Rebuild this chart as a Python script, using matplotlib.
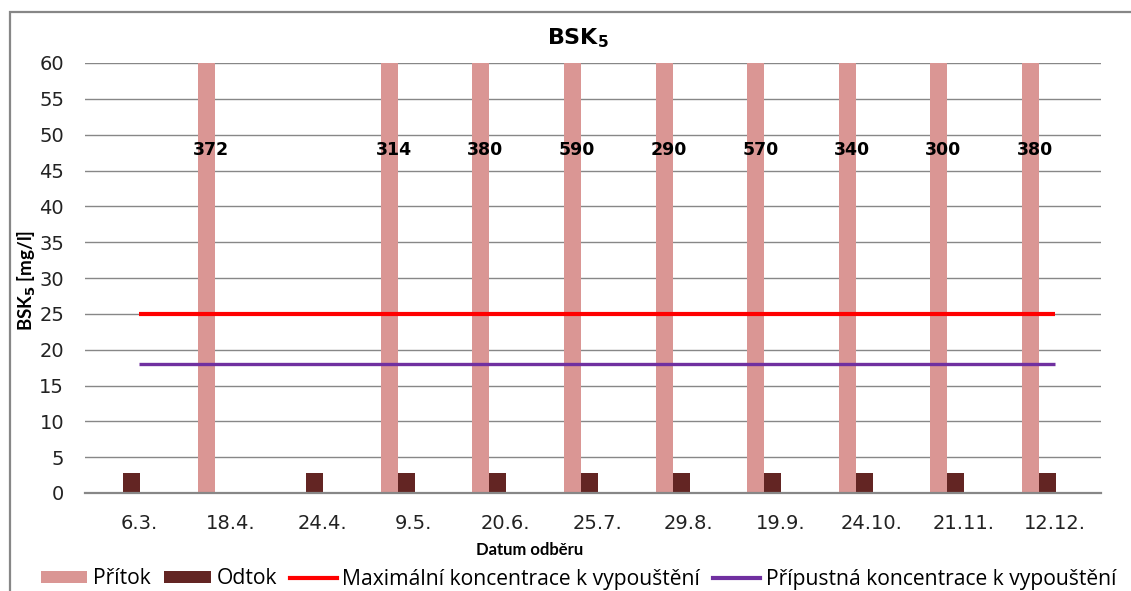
import numpy as np
import matplotlib
matplotlib.use("Agg")
import matplotlib.pyplot as plt
from matplotlib.patches import Patch, Rectangle
from matplotlib.lines import Line2D

# ── Data ──────────────────────────────────────────────────────────────────────
DATES = ["6.3.", "18.4.", "24.4.", "9.5.", "20.6.", "25.7.", "29.8.",
         "19.9.", "24.10.", "21.11.", "12.12."]
PRITOK = [np.nan, 372, np.nan, 314, 380, 590, 290, 570, 340, 300, 380]
ODTOK = [2.8, np.nan, 2.8, 2.8, 2.8, 2.8, 2.8, 2.8, 2.8, 2.8, 2.8]
MAX_LIMIT = [25] * len(DATES)
PRIP_LIMIT = [18] * len(DATES)
Y_MAX = 60

C_PRITOK = "#DA9694"
C_ODTOK = "#632523"
C_MAX = "#FF0000"
C_PRIP = "#7030A0"
C_GRID = "#878787"
LABEL_FONT = "Lato"
LEGEND_FONT = "Open Sans"

# ── Figure ────────────────────────────────────────────────────────────────────
fig = plt.figure(figsize=(11.31, 5.91), dpi=100)
ax = fig.add_axes([85 / 1131, 1 - 493 / 591, (1101 - 85) / 1131, (493 - 63) / 591])

# outer chart frame
fig.patches.append(Rectangle((10 / 1131, -0.2), 1.2, 1.2 - 12 / 591,
                             transform=fig.transFigure, fill=False,
                             edgecolor=C_GRID, linewidth=1.6))

x = np.arange(len(DATES))
bw = 0.186
lab_off = 0.175

ax.bar(x - bw / 2, PRITOK, bw, color=C_PRITOK, zorder=2)
ax.bar(x + bw / 2, ODTOK, bw, color=C_ODTOK, zorder=2)
ax.plot(x + lab_off, MAX_LIMIT, color=C_MAX, linewidth=3, zorder=3,
        solid_capstyle="butt")
ax.plot(x + lab_off, PRIP_LIMIT, color=C_PRIP, linewidth=2.4, zorder=3,
        solid_capstyle="butt")

# values of inflow bars that run off the scale
for xi, v in zip(x, PRITOK):
    if not np.isnan(v):
        ax.text(xi - bw / 2 + 0.05, 47.8, f"{v:.0f}", ha="center", va="center",
                fontsize=12.5, fontweight="bold", color="black", zorder=4)

ax.set_ylim(0, Y_MAX)
ax.set_xlim(-0.415, 10.677)
ax.set_yticks(np.arange(0, Y_MAX + 1, 5))
ax.set_xticks(x + lab_off)
ax.set_xticklabels(DATES)
ax.tick_params(axis="both", length=0, labelsize=14, colors="#222222")
ax.tick_params(axis="y", pad=15)
ax.tick_params(axis="x", pad=15)
ax.yaxis.grid(True, color=C_GRID, linewidth=1.0, zorder=0)
ax.set_axisbelow(True)
for s in ["top", "right", "left"]:
    ax.spines[s].set_visible(False)
ax.spines["bottom"].set_color(C_GRID)
ax.spines["bottom"].set_linewidth(1.6)

fig.text(578 / 1131, 1 - 38 / 591, "BSK$_\\mathbf{5}$", ha="center", va="center",
         fontsize=16, fontweight="bold")
fig.text(27 / 1131, 1 - 280 / 591, "BSK$_\\mathbf{5}$ [mg/l]", rotation=90,
         ha="center", va="center", fontsize=13.5, fontweight="bold",
         family=LABEL_FONT)
fig.text(530 / 1131, 1 - 550 / 591, "Datum odběru", ha="center", va="center",
         fontsize=12, fontweight="bold", family=LABEL_FONT)

handles = [
    Patch(facecolor=C_PRITOK, label="Přítok"),
    Patch(facecolor=C_ODTOK, label="Odtok"),
    Line2D([], [], color=C_MAX, linewidth=3, label="Maximální koncentrace k vypouštění"),
    Line2D([], [], color=C_PRIP, linewidth=3, label="Přípustná koncentrace k vypouštění"),
]
fig.legend(handles=handles, ncol=4, loc="center left",
           bbox_to_anchor=(41 / 1131, 1 - 579 / 591), frameon=False,
           prop={"family": LEGEND_FONT, "size": 15.2}, handlelength=2.2,
           handleheight=0.55, handletextpad=0.28, columnspacing=0.62,
           borderpad=0, borderaxespad=0)

fig.savefig("out.png", dpi=100)
